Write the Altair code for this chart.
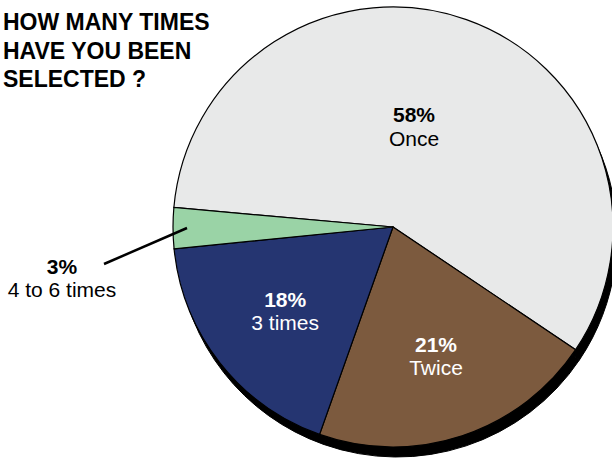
import math
import altair as alt
import pandas as pd

categories = ["Once", "Twice", "3 times", "4 to 6 times"]
values = [58, 21, 18, 3]
pct_labels = ["58%", "21%", "18%", "3%"]
colors = ["#E8E9E9", "#7C5A3E", "#253571", "#9AD3A6"]
title_lines = ["HOW MANY TIMES", "HAVE YOU BEEN", "SELECTED ?"]

df = pd.DataFrame({
    "category": categories,
    "value": values,
    "pct": pct_labels,
    "idx": list(range(len(categories))),
})

FONT = "Liberation Sans"
CX, CY, R = 393, 227, 220
start = math.radians(275.1)
theta_scale = alt.Scale(range=[start, start + 2 * math.pi])
theta = alt.Theta("value:Q", stack=True, scale=theta_scale)
order = alt.Order("idx:Q")

base = alt.Chart(df)

shadow = base.mark_arc(outerRadius=R, fill="black", stroke="black", strokeWidth=1).encode(
    theta=theta, order=order, x=alt.value(CX + 4), y=alt.value(CY + 10)
)

pie = base.mark_arc(outerRadius=R, stroke="black", strokeWidth=1.2).encode(
    theta=theta,
    order=order,
    color=alt.Color("category:N", scale=alt.Scale(domain=categories, range=colors), legend=None),
    x=alt.value(CX),
    y=alt.value(CY),
)


def label_layer(cats, radius, toff, text_color, field, bold, dy):
    expr = "indexof(" + str(cats) + ", datum.category) >= 0 ? datum." + field + " : ''"
    return base.transform_calculate(lbl=expr).mark_text(
        radius=radius,
        thetaOffset=toff,
        font=FONT,
        fontSize=21,
        fontWeight="bold" if bold else "normal",
        color=text_color,
        align="center",
        baseline="middle",
        dy=dy,
    ).encode(theta=theta, order=order, text="lbl:N", x=alt.value(CX), y=alt.value(CY))


inner_white = ["Twice", "3 times"]
layers = [
    shadow,
    pie,
    label_layer(inner_white, 137, 0, "white", "pct", True, -11),
    label_layer(inner_white, 137, 0, "white", "category", False, 12),
    label_layer(["Once"], 102, -0.133, "black", "pct", True, -11),
    label_layer(["Once"], 102, -0.133, "black", "category", False, 13),
    label_layer(["4 to 6 times"], 335, -0.150, "black", "pct", True, -11),
    label_layer(["4 to 6 times"], 335, -0.150, "black", "category", False, 12),
]

leader = alt.Chart(pd.DataFrame({"k": [0]})).mark_rule(color="black", strokeWidth=2.5).encode(
    x=alt.value(104), y=alt.value(264), x2=alt.value(187), y2=alt.value(228)
)

title = alt.Chart(pd.DataFrame({"t": [title_lines]})).mark_text(
    align="left", baseline="alphabetic", font=FONT, fontSize=23, fontWeight="bold",
    lineHeight=28.5, color="black",
).encode(text="t", x=alt.value(3), y=alt.value(30))

chart = alt.layer(*layers, leader, title).properties(
    width=612, height=462, autosize="none", padding=0, background="white"
).configure_view(stroke=None)

chart.save("out.html", embed_options={"renderer": "svg", "actions": False})
